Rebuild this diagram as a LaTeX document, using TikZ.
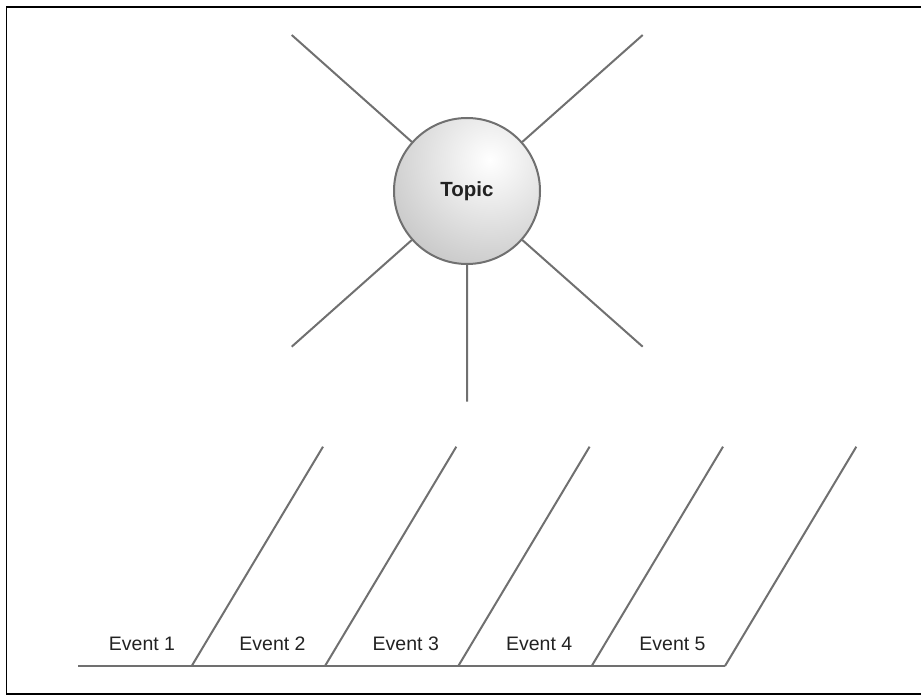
\documentclass[tikz,border=0pt]{standalone}
\usepackage{fontspec}
\setmainfont{Liberation Sans}
\definecolor{linegray}{HTML}{707070}
\definecolor{inkdark}{HTML}{222222}
\begin{document}
\begin{tikzpicture}[x=1pt,y=-1pt,
  spoke/.style={draw=linegray, line width=2pt},
  frame/.style={draw=black, line width=1.5pt},
  topicball/.style={circle, draw=linegray, line width=2pt, minimum size=146pt,
    inner sep=0pt, text=inkdark, font=\bfseries\fontsize{20.5}{24}\selectfont},
  evt/.style={anchor=base, inner sep=0pt, text=inkdark,
    font=\fontsize{19.5}{23}\selectfont}]
\useasboundingbox (0,0) rectangle (921,695);
% outer frame (its right side runs past the page edge)
\draw[frame] (6.7,7) rectangle (940,694);

% shaded sphere, highlight towards the upper right
\begin{scope}
  \clip (467,191) circle (73pt);
  \shade[inner color=white, outer color=black!21] (490,160) circle (112pt);
\end{scope}
\node[topicball] (topic) at (467,191) {Topic};

% spokes
\coordinate (s1) at (291.7,35);
\coordinate (s2) at (642.7,35);
\coordinate (s3) at (291.7,346.7);
\coordinate (s4) at (642.7,346.7);
\coordinate (s5) at (467.2,401.7);
\foreach \s in {s1,s2,s3,s4,s5}
  \draw[spoke] (topic) -- (\s);

% time line with slanted event dividers
\coordinate (b0) at (78.3,666);
\foreach \i/\x in {1/191.7,2/325,3/458.3,4/591.7,5/725}{
  \coordinate (b\i) at (\x,666);
  \coordinate (t\i) at (\x+131.3,446.7);
}
\draw[spoke] (b0) -- (b5);
\foreach \i in {1,...,5}
  \draw[spoke] (b\i) -- (t\i);

% event labels
\node[evt] (e1) at (142,650) {Event 1};
\node[evt] (e2) at (272.5,650) {Event 2};
\node[evt] (e3) at (405.8,650) {Event 3};
\node[evt] (e4) at (539.2,650) {Event 4};
\node[evt] (e5) at (672.5,650) {Event 5};
\end{tikzpicture}
\end{document}
